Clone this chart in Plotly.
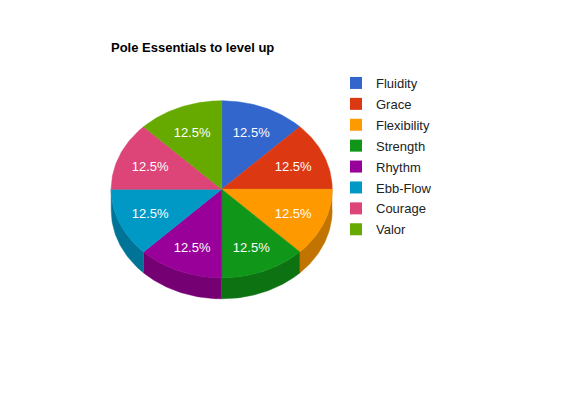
import numpy as np
import plotly.graph_objects as go

# data
categories = ["Fluidity", "Grace", "Flexibility", "Strength",
              "Rhythm", "Ebb-Flow", "Courage", "Valor"]
values = [1, 1, 1, 1, 1, 1, 1, 1]
colors = ["#3366cc", "#dc3912", "#ff9900", "#109618",
          "#990099", "#0099c6", "#dd4477", "#66aa00"]
title = "Pole Essentials to level up"

# geometry of the tilted pie (pixels)
CX, CY = 221.7, 189.3
RX, RY = 110.5, 88.5
DEPTH = 21
OFF = 8  # page margin around the figure
FONT = "Arial, Liberation Sans, sans-serif"


def ellipse(theta, dy=0.0):
    t = np.radians(theta)
    return CX + RX * np.sin(t), CY - RY * np.cos(t) + dy


def darker(hexcol, k=0.76):
    r, g, b = (int(hexcol[i:i + 2], 16) for i in (1, 3, 5))
    return "rgb(%d,%d,%d)" % (r * k, g * k, b * k)


total = float(sum(values))
ends = np.cumsum(values) / total * 360.0
starts = np.concatenate([[0.0], ends[:-1]])

fig = go.Figure()

# side walls (only the front half, 90..270 deg clockwise from top)
for a0, a1, col in zip(starts, ends, colors):
    s0, s1 = max(a0, 90.0), min(a1, 270.0)
    if s1 <= s0:
        continue
    th = np.linspace(s0, s1, 40)
    xt, yt = ellipse(th)
    xb, yb = ellipse(th[::-1], DEPTH)
    fig.add_trace(go.Scatter(
        x=np.concatenate([xt, xb]), y=np.concatenate([yt, yb]),
        mode="lines", fill="toself", fillcolor=darker(col),
        line=dict(color=darker(col), width=0.5),
        hoverinfo="skip", showlegend=False,
    ))

# top faces
for a0, a1, col, name in zip(starts, ends, colors, categories):
    th = np.linspace(a0, a1, 40)
    xs, ys = ellipse(th)
    fig.add_trace(go.Scatter(
        x=np.concatenate([[CX], xs, [CX]]), y=np.concatenate([[CY], ys, [CY]]),
        mode="lines", fill="toself", fillcolor=col,
        line=dict(color=col, width=0.5),
        hoverinfo="skip", showlegend=False, legendgroup=name,
    ))

# percentage labels
mids = (starts + ends) / 2
t = np.radians(mids)
fig.add_trace(go.Scatter(
    x=CX + 0.7 * RX * np.sin(t), y=CY - 0.7 * RY * np.cos(t) + 2,
    mode="text",
    text=["%.1f%%" % (v / total * 100) for v in values],
    textfont=dict(family=FONT, size=13, color="white"),
    hoverinfo="skip", showlegend=False,
))

# legend entries
for col, name in zip(colors, categories):
    fig.add_trace(go.Scatter(
        x=[None], y=[None], mode="markers", name=name, legendgroup=name,
        marker=dict(symbol="square", size=12, color=col, line=dict(width=0)),
    ))

fig.update_layout(
    width=580, height=400,
    margin=dict(l=0, r=0, t=0, b=0),
    paper_bgcolor="white", plot_bgcolor="white",
    title=dict(text="<b>%s</b>" % title, x=(111 - OFF) / 580, xanchor="left",
               y=1 - (47 - OFF) / 400, yanchor="middle",
               font=dict(family=FONT, size=13, color="black")),
    xaxis=dict(range=[OFF, 580 + OFF], visible=False, fixedrange=True),
    yaxis=dict(range=[400 + OFF, OFF], visible=False, fixedrange=True),
    legend=dict(x=328 / 580, y=1 - 60 / 400, xanchor="left", yanchor="top",
                font=dict(family=FONT, size=13, color="#222222"),
                traceorder="grouped", tracegroupgap=1,
                bgcolor="rgba(0,0,0,0)"),
    hovermode=False,
    showlegend=True,
)

fig.write_html("out.html")
